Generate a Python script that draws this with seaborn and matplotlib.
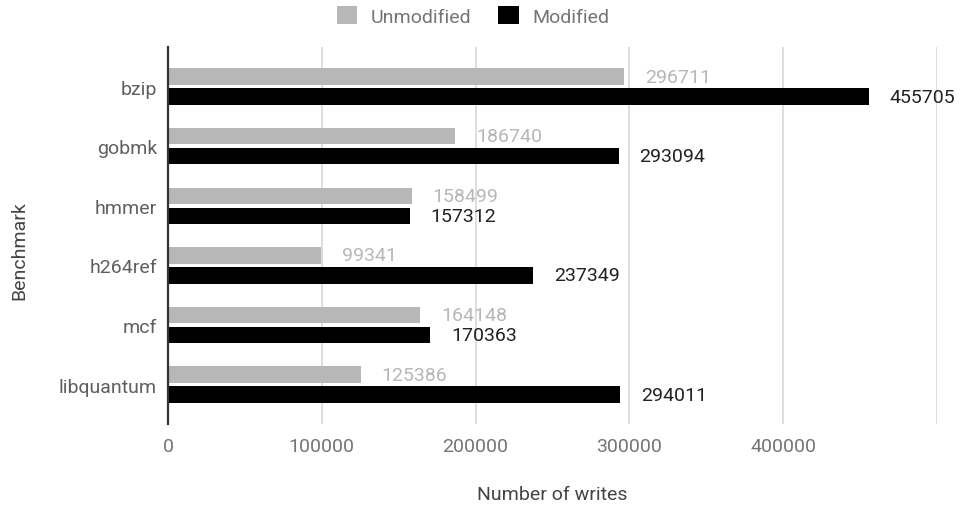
import matplotlib
matplotlib.use("Agg")
import matplotlib.pyplot as plt
import seaborn as sns
import pandas as pd
from matplotlib.patches import Patch

# Benchmark write counts
benchmarks = ["bzip", "gobmk", "hmmer", "h264ref", "mcf", "libquantum"]
unmodified = [296711, 186740, 158499, 99341, 164148, 125386]
modified = [455705, 293094, 157312, 237349, 170363, 294011]
series_names = ["Unmodified", "Modified"]
x_ticks = [0, 100000, 200000, 300000, 400000, 500000]
x_tick_labels = ["0", "100000", "200000", "300000", "400000", ""]

GRAY = "#b7b7b7"
BLACK = "#000000"

df = pd.DataFrame({
    "Benchmark": benchmarks * 2,
    "Writes": unmodified + modified,
    "Series": [series_names[0]] * len(benchmarks) + [series_names[1]] * len(benchmarks),
})

sns.set_theme(style="white")
plt.rcParams["font.family"] = ["Roboto", "DejaVu Sans"]

W, H = 963, 510
fig = plt.figure(figsize=(W / 100, H / 100), dpi=100)
ax = fig.add_axes([168 / W, 1 - 425 / H, (937 - 168) / W, (425 - 48.3) / H])

sns.barplot(
    data=df, y="Benchmark", x="Writes", hue="Series", order=benchmarks,
    hue_order=series_names, palette=[GRAY, BLACK], orient="h",
    width=0.67, gap=0.18, linewidth=0, legend=False, ax=ax, zorder=3,
)

ax.set_xlim(0, 500000)
ax.set_ylim(len(benchmarks) - 1 + 0.66, -0.66)

ax.set_xticks(x_ticks)
ax.set_xticklabels(x_tick_labels)
ax.grid(axis="x", color="#d4d4d4", linewidth=1.1, zorder=0)
ax.grid(axis="y", visible=False)
for side in ["top", "right", "bottom"]:
    ax.spines[side].set_visible(False)
ax.spines["left"].set_color("#333333")
ax.spines["left"].set_linewidth(1.6)
ax.spines["left"].set_zorder(4)

ax.tick_params(axis="x", length=0, pad=9, labelsize=14, labelcolor="#757575")
ax.tick_params(axis="y", length=0, pad=8, labelsize=14, labelcolor="#5f5f5f")

# Value labels next to each bar
label_colors = ["#b7b7b7", "#222222"]
for container, vals, col in zip(ax.containers, [unmodified, modified], label_colors):
    ax.bar_label(container, labels=[str(v) for v in vals], padding=15,
                 fontsize=14, color=col)

ax.set_xlabel("Number of writes", fontsize=14, color="#444444", va="center")
ax.xaxis.set_label_coords(0.5, -0.186)
ax.set_ylabel("Benchmark", fontsize=14, color="#444444", va="center", ha="center")
ax.yaxis.set_label_coords(-0.1934, 0.462)

handles = [Patch(facecolor=GRAY, edgecolor="none"), Patch(facecolor=BLACK, edgecolor="none")]
fig.legend(handles, series_names, loc="center", bbox_to_anchor=(473 / W, 1 - 17 / H),
           ncol=2, frameon=False, fontsize=14, labelcolor="#757575",
           handlelength=1.05, handleheight=1.05, handletextpad=0.7, columnspacing=1.4)

fig.savefig("out.png", dpi=100)
